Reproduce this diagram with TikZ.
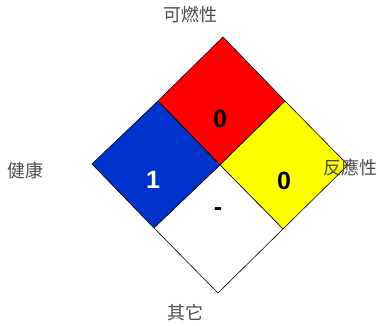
\documentclass[tikz,border=0pt]{standalone}
\usepackage{fontspec}
\setmainfont{Liberation Sans}
\newfontfamily\cjk{Noto Sans CJK TC}
\definecolor{hazblue}{RGB}{0,51,204}
\definecolor{hazred}{RGB}{255,0,0}
\definecolor{hazyellow}{RGB}{255,255,0}
\tikzset{
  quad/.style={draw=black, line width=0.6pt, line join=miter},
  rating/.style={font=\fontsize{25}{25}\selectfont\bfseries, inner sep=0pt},
  caption/.style={font=\cjk\fontsize{18}{18}\selectfont, text=black!70, inner sep=0pt}
}
\begin{document}
\begin{tikzpicture}[x=1pt, y=-1pt]
        \useasboundingbox (0,0) rectangle (378,326);

        \coordinate (top) at (223,37);
        \coordinate (left) at (92,164);
        \coordinate (right) at (348,165);
        \coordinate (bottom) at (218,293);
        \coordinate (mid) at (220,165);
        \coordinate (tl) at (158,101);
        \coordinate (tr) at (285,101);
        \coordinate (bl) at (154,228);
        \coordinate (br) at (283,229);

        \filldraw[quad, fill=hazred] (top) -- (tr) -- (mid) -- (tl) -- cycle;
        \filldraw[quad, fill=hazblue] (tl) -- (mid) -- (bl) -- (left) -- cycle;
        \filldraw[quad, fill=hazyellow] (tr) -- (right) -- (br) -- (mid) -- cycle;
        \filldraw[quad, fill=white] (mid) -- (br) -- (bottom) -- (bl) -- cycle;

        \node[rating] (fire) at (220,119) {0};
        \node[rating, text=white] (health) at (153,180) {1};
        \node[rating] (react) at (284,181) {0};
        \node[rating] (other) at (218,212) {-};

        \node[caption] (firelbl) at (190,15) {可燃性};
        \node[caption] (healthlbl) at (26,171) {健康};
        \node[caption] (reactlbl) at (350,167) {反應性};
        \node[caption] (otherlbl) at (185,313) {其它};

    \end{tikzpicture}
\end{document}
